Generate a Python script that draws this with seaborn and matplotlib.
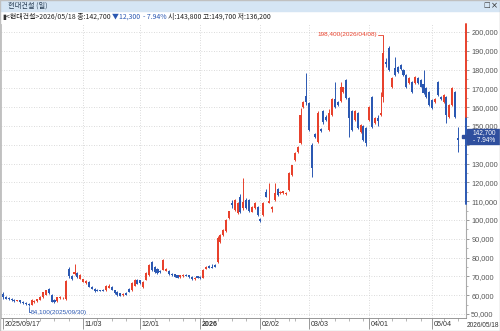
import numpy as np
import pandas as pd
import matplotlib
matplotlib.use("Agg")
import matplotlib.pyplot as plt
import matplotlib.transforms as mtransforms
from matplotlib.patches import Rectangle
import seaborn as sns

# trading calendar (KRX holidays removed)
holidays = ["2025-10-03", "2025-10-06", "2025-10-07", "2025-10-08", "2025-10-09",
            "2025-12-25", "2025-12-31", "2026-01-01", "2026-02-16", "2026-02-17",
            "2026-02-18", "2026-03-02", "2026-05-01", "2026-05-05"]
dates = pd.bdate_range("2025-09-17", "2026-05-18")
dates = dates[~dates.isin(pd.to_datetime(holidays))]

opens = [60500, 59000, 58300, 58000, 57300, 57000, 57200, 56400, 55800, 55400,
         54800, 56300, 56900, 57500, 59000, 60200, 63300, 60200, 57400, 56800,
         58500, 58300, 57800, 74000, 70000, 71000, 71800, 68800, 67200, 66300,
         67000, 64500, 63500, 62800, 62600, 63000, 62600, 64000, 64400, 62700,
         61600, 61000, 60000, 61200, 63300, 62700, 65000, 68100, 68000, 64300,
         68100, 70700, 77500, 75000, 74000, 73000, 73500, 73000, 73000, 71500,
         71000, 70500, 69500, 70000, 70800, 70500, 69800, 68600, 70000, 69800,
         69200, 74000, 75500, 75000, 76000, 77500, 88500, 92000, 94000, 100900,
         109000, 105300, 103500, 112400, 106200, 110600, 110600, 104400, 106300, 107000,
         100500, 102600, 115000, 109200, 105700, 110600, 116500, 114200, 114300, 113600,
         116000, 124000, 132000, 136200, 141000, 160000, 166000, 162000, 140000, 145500,
         141500, 148500, 158000, 155000, 148000, 156000, 164500, 162500, 163500, 168000,
         174500, 165000, 158000, 153000, 157000, 147000, 150000, 149000, 153000, 165500,
         151500, 154000, 155800, 165500, 184000, 191500, 170800, 181000, 181500, 182500,
         179800, 177000, 173000, 173400, 173000, 175500, 174500, 172500, 170000, 168000,
         163800, 162500, 173500, 165200, 162500, 165500, 154800, 161000, 168000, 143800]
highs = [61500, 59500, 58800, 58400, 57800, 57500, 57400, 56700, 56200, 55800,
         57800, 57300, 58000, 59300, 61900, 62900, 63900, 60500, 57800, 59200,
         59300, 58800, 68000, 75000, 70500, 76500, 72500, 71200, 68800, 67800,
         67300, 65000, 63800, 63200, 63000, 63300, 65400, 66000, 64800, 63000,
         62000, 61300, 61000, 61500, 63600, 66800, 68500, 68400, 68300, 67300,
         72200, 76400, 78200, 75400, 74300, 73300, 79200, 74400, 73300, 71800,
         71300, 70800, 70800, 71100, 71200, 70800, 70100, 69600, 70300, 70100,
         73800, 75500, 75800, 76500, 76800, 91500, 92500, 95200, 100500, 105000,
         110500, 111000, 109300, 114000, 122300, 111500, 111000, 107500, 109500, 107500,
         101000, 109500, 116500, 119600, 107500, 119600, 117000, 115500, 115600, 114900,
         125500, 129500, 136000, 139500, 159500, 163200, 178000, 163000, 141000, 146000,
         157800, 149000, 158500, 155800, 159000, 165000, 173400, 163200, 173500, 171000,
         175000, 165500, 158500, 158500, 157500, 151000, 150500, 149500, 160500, 166000,
         155000, 156000, 168000, 198400, 186000, 192500, 176000, 186700, 182000, 183000,
         180300, 177500, 176000, 173900, 176500, 176000, 175000, 180000, 170500, 168500,
         164300, 165000, 174000, 165700, 167000, 166000, 161500, 170500, 168500, 149700]
lows = [58200, 57800, 57500, 57000, 56600, 56700, 56000, 55400, 54900, 54100,
        54500, 56000, 56500, 57200, 58700, 60000, 60800, 56200, 56000, 56500,
        58200, 57800, 57500, 69000, 68000, 70500, 69200, 68500, 66800, 66000,
        64300, 63200, 61800, 62000, 62000, 62000, 62300, 63800, 62500, 60800,
        59700, 59300, 59300, 60000, 61500, 62400, 64800, 65800, 66200, 64000,
        67800, 70400, 73000, 72000, 71500, 72000, 73200, 72600, 70700, 70300,
        69500, 69000, 69200, 69800, 70000, 69300, 68200, 68300, 68900, 68700,
        69000, 73700, 74400, 74300, 74900, 77200, 88000, 91500, 93500, 100500,
        106500, 105000, 103000, 103800, 105300, 105800, 104200, 104000, 106000, 102200,
        99000, 102200, 112000, 108800, 104500, 110200, 112800, 113800, 114000, 113200,
        115600, 123600, 131500, 135800, 140500, 159600, 161000, 147500, 122800, 143800,
        141000, 147000, 151200, 152500, 147500, 155500, 159600, 160500, 163000, 167500,
        164600, 144000, 147500, 152500, 148500, 146500, 142000, 139500, 152500, 149000,
        151000, 150000, 155300, 163000, 181500, 179300, 170300, 176500, 178000, 179800,
        176600, 170300, 172500, 167500, 172500, 172500, 170500, 167000, 165000, 160500,
        159000, 162000, 166000, 164000, 162000, 151500, 154300, 160500, 154500, 136200]
closes = [58800, 58200, 57900, 57200, 57000, 57300, 56300, 55700, 55300, 54700,
          57400, 56900, 57800, 59000, 61500, 62500, 61300, 56500, 56400, 58900,
          59000, 58500, 67500, 70000, 68500, 72500, 69500, 70700, 68400, 67500,
          64500, 63500, 62000, 62200, 62300, 62200, 65000, 64800, 62700, 61100,
          60000, 59500, 60600, 60200, 61700, 66500, 68000, 66000, 66500, 67000,
          71800, 76000, 73400, 72300, 71800, 72300, 78500, 74000, 71000, 70500,
          69800, 69300, 70500, 70800, 70300, 69600, 68500, 69300, 69200, 69000,
          73500, 75200, 74700, 74600, 75200, 90500, 92000, 94700, 100000, 104600,
          108000, 110600, 108900, 104400, 109700, 106200, 104600, 107000, 109000, 102600,
          99500, 109000, 112400, 110200, 107000, 114500, 113200, 115000, 115200, 114500,
          125000, 129000, 135600, 138800, 155800, 162800, 163000, 148000, 127500, 144300,
          157000, 147500, 152000, 153000, 157000, 164500, 160000, 161000, 170500, 170500,
          165000, 154000, 148000, 158000, 149000, 150500, 142500, 141000, 160000, 149500,
          154500, 152500, 156800, 188800, 183000, 179800, 175500, 177000, 178500, 180300,
          177100, 170800, 175500, 168000, 176000, 173000, 171000, 167500, 165500, 161000,
          159500, 164500, 166500, 164500, 166500, 156000, 161000, 170000, 155000, 142700]

tick_dates = ["2025-09-17", "2025-11-03", "2025-12-01", "2026-01-02", "2026-02-02",
              "2026-03-03", "2026-04-01", "2026-05-04"]
tick_labels = ["2025/09/17", "11/03", "12/01", "2026", "02/02", "03/03", "04/01", "05/04"]
last_label = "2026/05/18"
prev_close = 155000
upper_limit = 201500
lower_limit = 108500

df = pd.DataFrame({"date": dates, "open": opens, "high": highs, "low": lows, "close": closes})
df["x"] = np.arange(len(df))
df["up"] = df["close"] >= df["open"]

RED = "#e8412c"
BLUE = "#2b58b2"
GRID = "#cfcfcf"

sns.set_theme(style="white")
plt.rcParams["font.family"] = ["Liberation Sans", "Noto Sans CJK KR", "DejaVu Sans"]

W, H = 500, 331
fig = plt.figure(figsize=(W / 100, H / 100), dpi=100)
fig.patch.set_facecolor("white")
ax = fig.add_axes([0.002, 13 / H, 465 / W, (318 - 24) / H])
ax.set_facecolor("white")

colors = np.where(df["up"], RED, BLUE)
body_lo = np.minimum(df["open"], df["close"])
body_h = np.maximum(np.abs(df["close"] - df["open"]), 350)
ax.vlines(df["x"], df["low"], df["high"], colors=colors, lw=0.7, zorder=3)
ax.bar(df["x"], body_h, bottom=body_lo, width=0.72, color=colors, linewidth=0, zorder=4)

ax.set_xlim(-0.7, 161.85)
ax.set_ylim(47850, 204250)

# y axis on the right (the 140,000 label sits under the price tag)
ax.yaxis.tick_right()
yt = list(range(50000, 200001, 10000))
ax.set_yticks(yt)
ax.set_yticks(np.arange(50000, 200001, 5000), minor=True)
ax.set_yticklabels(["" if v == 140000 else f"{v:,}" for v in yt])
ax.tick_params(axis="y", which="major", right=True, direction="out", length=2.5,
               width=0.6, color="#888888", labelsize=5.3, labelcolor="#555555", pad=1.2)
ax.tick_params(axis="y", which="minor", right=True, direction="out", length=1.5,
               width=0.5, color="#999999")

# x axis
tick_pos = dates.get_indexer(pd.to_datetime(tick_dates))
week_start = [i for i in range(1, len(dates)) if dates[i].weekday() < dates[i - 1].weekday()]
ax.set_xticks(tick_pos)
ax.set_xticklabels(tick_labels)
ax.set_xticks(week_start, minor=True)
ax.tick_params(axis="x", which="major", bottom=True, direction="out", length=8,
               width=0.6, color="#888888", labelsize=5.1, labelcolor="#333333", pad=-6)
ax.tick_params(axis="x", which="minor", bottom=True, direction="out", length=2,
               width=0.5, color="#999999")
shift = mtransforms.ScaledTranslation(1.2 / 72, 0, fig.dpi_scale_trans)
for lab in ax.get_xticklabels():
    lab.set_horizontalalignment("left")
    lab.set_transform(lab.get_transform() + shift)
    if lab.get_text() == "2026":
        lab.set_fontweight("bold")
fig.text(466.5 / W, 1 - 325.5 / H, last_label, fontsize=4.7, color="#333333",
         ha="left", va="center")

# grid
for v in range(50000, 200001, 10000):
    ax.axhline(v, color=GRID, lw=0.6, ls=(0, (1, 2)), zorder=1)
for p in tick_pos[1:]:
    ax.axvline(p, color=GRID, lw=0.6, ls=(0, (1, 2)), zorder=1)

for s in ["top", "right"]:
    ax.spines[s].set_visible(False)
ax.spines["left"].set_color("#bbbbbb")
ax.spines["left"].set_linewidth(0.6)
ax.spines["bottom"].set_color("#888888")
ax.spines["bottom"].set_linewidth(0.6)

# right axis line coloured by price-limit range
btr = mtransforms.blended_transform_factory(ax.transAxes, ax.transData)
ax.plot([1, 1], [47850, lower_limit], transform=btr, color="#aaaaaa", lw=0.8, clip_on=False)
ax.plot([1, 1], [lower_limit, prev_close], transform=btr, color=BLUE, lw=1.4, clip_on=False)
ax.plot([1, 1], [prev_close, 204250], transform=btr, color=RED, lw=1.4, clip_on=False)

# max / min annotations
imax = int(np.argmax(df["high"]))
imin = int(np.argmin(df["low"]))
hi = df["high"][imax]
lo = df["low"][imin]
ax.plot([imax - 2.0, imax], [hi, hi], color=RED, lw=0.6, zorder=5)
ax.text(imax - 2.1, hi, f"{hi:,}({dates[imax]:%Y/%m/%d})", color=RED,
        fontsize=4.6, ha="right", va="center")
lo_y = lo - 3300
ax.plot([imin, imin, imin + 0.7], [lo - 500, lo_y, lo_y], color=BLUE, lw=0.6,
        clip_on=False, zorder=5)
ax.text(imin + 0.8, lo_y, f"{lo:,}({dates[imin]:%Y/%m/%d})", color=BLUE,
        fontsize=4.6, ha="left", va="center")

# current price tag
fig.patches.append(Rectangle((467 / W, 1 - 144 / H), 33 / W, 15 / H,
                             transform=fig.transFigure, color="#2f4f9e", zorder=5))
fig.patches.append(Rectangle((462 / W, 1 - 138 / H), 4 / W, 3 / H,
                             transform=fig.transFigure, color="#2f4f9e", zorder=5))
pct = (closes[-1] - prev_close) / prev_close * 100
fig.text(484 / W, 1 - 133.0 / H, f"{closes[-1]:,}", color="white", fontsize=4.7,
         ha="center", va="center", zorder=6)
fig.text(484 / W, 1 - 140.2 / H, f"- {abs(pct):.2f}%", color="white", fontsize=4.7,
         ha="center", va="center", zorder=6)

# window title bar
fig.patches.append(Rectangle((0, 1 - 11 / H), 1, 11 / H, transform=fig.transFigure,
                             color="#d5e5f4", zorder=0))
fig.text(8 / W, 1 - 5.5 / H, "현대건설 (일)", fontsize=5.2, color="#2a3f55",
         ha="left", va="center", family=["Noto Sans CJK KR", "DejaVu Sans"])
fig.text(483 / W, 1 - 5.5 / H, "□", fontsize=5, color="#333333", ha="left", va="center",
         family=["DejaVu Sans"])
fig.text(491 / W, 1 - 5.5 / H, "×", fontsize=6, color="#333333", ha="left", va="center",
         family=["DejaVu Sans"])

# info line
chg = closes[-1] - prev_close
pieces = [("▮", "#333333"),
          (f"<현대건설>{dates[-1]:%Y/%m/%d} 종:{closes[-1]:,} ", "#222222"),
          (f"▼{abs(chg):,}  ", BLUE),
          (f"- {abs(pct):.2f}% ", BLUE),
          (f"시:{opens[-1]:,} 고:{highs[-1]:,} 저:{lows[-1]:,}", "#222222")]
renderer = fig.canvas.get_renderer()
xpos = 2 / W
for txt, col in pieces:
    t = fig.text(xpos, 1 - 17 / H, txt, fontsize=5.0, color=col, ha="left", va="center",
                 family=["Noto Sans CJK KR", "DejaVu Sans"])
    xpos += t.get_window_extent(renderer).width / fig.bbox.width

# outer frame
fig.patches.append(Rectangle((0, 0), 1, 1, transform=fig.transFigure, fill=False,
                             edgecolor="#c0c0c0", lw=1.0, zorder=10))

fig.savefig("out.png", dpi=100)
